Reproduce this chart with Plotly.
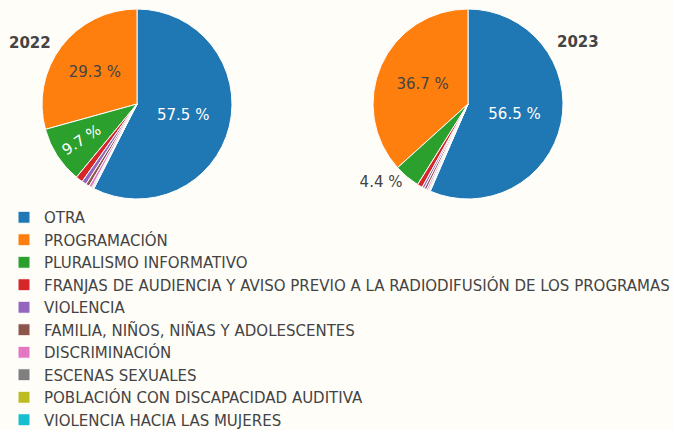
import plotly.graph_objects as go

categories = [
    "OTRA",
    "PROGRAMACIÓN",
    "PLURALISMO INFORMATIVO",
    "FRANJAS DE AUDIENCIA Y AVISO PREVIO A LA RADIODIFUSIÓN DE LOS PROGRAMAS",
    "VIOLENCIA",
    "FAMILIA, NIÑOS, NIÑAS Y ADOLESCENTES",
    "DISCRIMINACIÓN",
    "ESCENAS SEXUALES",
    "POBLACIÓN CON DISCAPACIDAD AUDITIVA",
    "VIOLENCIA HACIA LAS MUJERES",
]
values_2022 = [57.5, 29.3, 9.7, 1.2, 0.8, 0.6, 0.5, 0.2, 0.1, 0.1]
values_2023 = [56.5, 36.7, 4.4, 0.9, 0.4, 0.4, 0.3, 0.2, 0.1, 0.1]
positions_2022 = ["inside", "inside", "inside"] + ["none"] * 7
positions_2023 = ["inside", "inside", "outside"] + ["none"] * 7
colors = ["#1f77b4", "#ff7f0e", "#2ca02c", "#d62728", "#9467bd",
          "#8c564b", "#e377c2", "#7f7f7f", "#bcbd22", "#17becf"]

W, H = 674, 430
BG = "#fffdf8"
FONT = "DejaVu Sans, sans-serif"


def dom(cx, cy, r):
    return dict(x=[(cx - r) / W, (cx + r) / W], y=[1 - (cy + r) / H, 1 - (cy - r) / H])


fig = go.Figure()
fig.add_trace(go.Pie(
    labels=categories, values=values_2022, sort=False, direction="counterclockwise",
    rotation=0,
    marker=dict(colors=colors, line=dict(color="white", width=1)),
    texttemplate="%{value:.1f} %", textposition=positions_2022,
    textfont=dict(size=15, family=FONT),
    domain=dom(137, 104, 95), name="2022", hoverinfo="label+percent",
))
fig.add_trace(go.Pie(
    labels=categories, values=values_2023, sort=False, direction="counterclockwise",
    rotation=0,
    marker=dict(colors=colors, line=dict(color="white", width=1)),
    texttemplate="%{value:.1f} %", textposition=positions_2023,
    textfont=dict(size=15, family=FONT),
    domain=dom(468, 104, 95), name="2023", hoverinfo="label+percent",
    showlegend=False,
))
fig.add_annotation(text="<b>2022</b>", x=30 / W, y=1 - 43 / H, xref="paper", yref="paper",
                   showarrow=False, font=dict(size=15, color="#444", family=FONT),
                   xanchor="center", yanchor="middle")
fig.add_annotation(text="<b>2023</b>", x=578 / W, y=1 - 42 / H, xref="paper", yref="paper",
                   showarrow=False, font=dict(size=15, color="#444", family=FONT),
                   xanchor="center", yanchor="middle")
fig.update_layout(
    width=W, height=H, margin=dict(l=0, r=0, t=0, b=0, autoexpand=False),
    paper_bgcolor=BG, plot_bgcolor=BG,
    font=dict(family=FONT, color="#444"),
    legend=dict(orientation="v", x=4 / W, y=1 - 201 / H, xanchor="left", yanchor="top",
                font=dict(size=15, family=FONT, color="#444"), bgcolor="rgba(0,0,0,0)",
                traceorder="normal"),
)
fig.write_html(
    "out.html",
    config={"displayModeBar": False},
    post_script="document.body.style.margin='0';document.body.style.overflow='hidden';"
                "document.body.style.background='" + BG + "';",
)
